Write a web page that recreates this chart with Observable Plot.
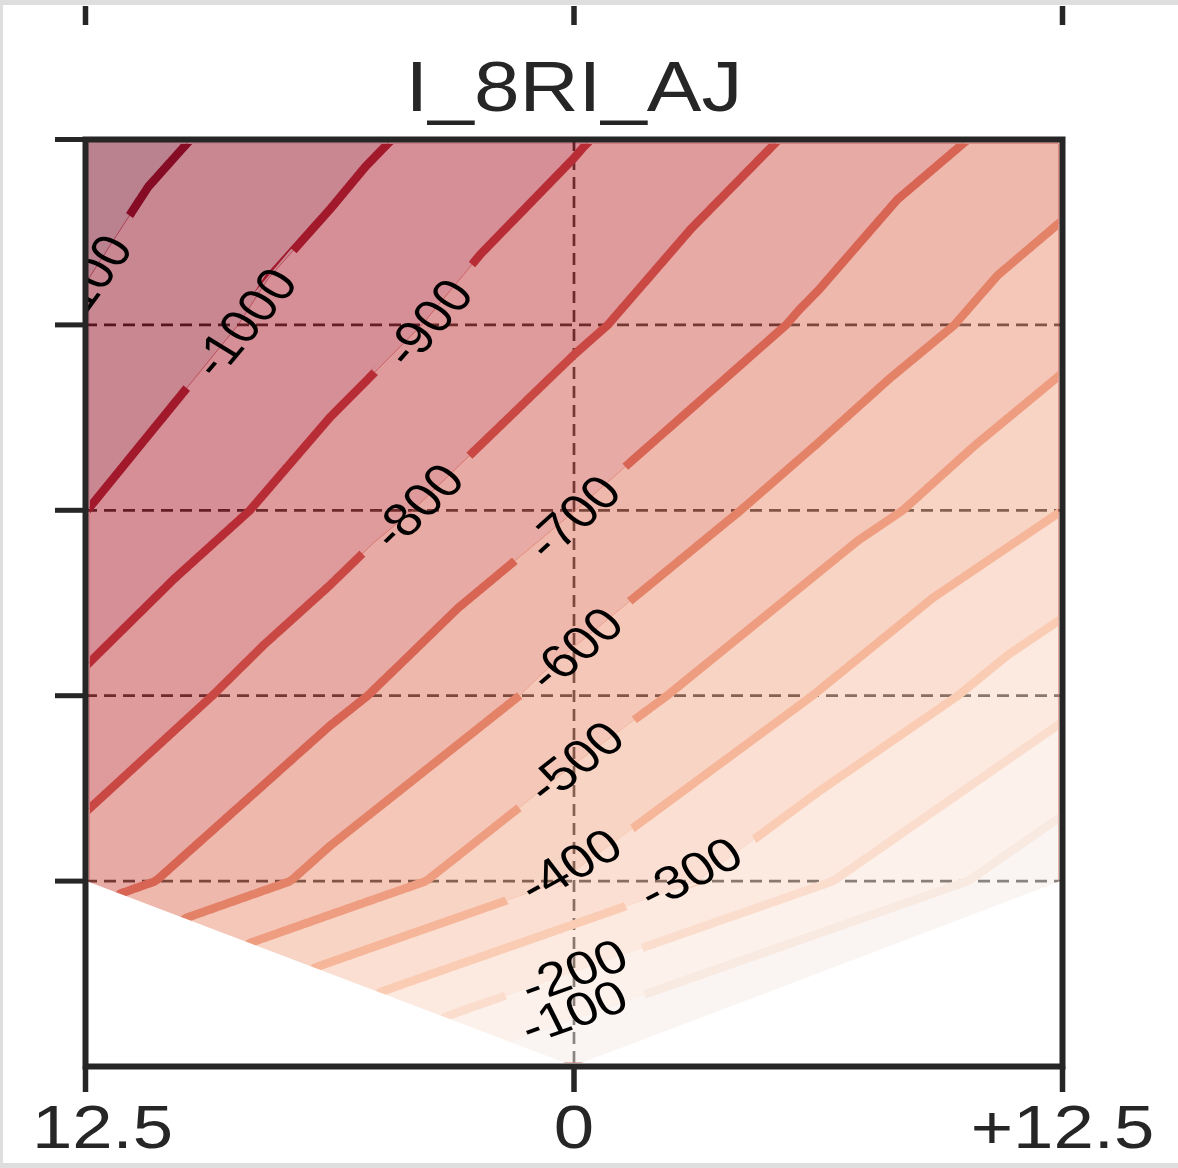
<!DOCTYPE html>
<html><head><meta charset="utf-8">
<script src="https://cdn.jsdelivr.net/npm/d3@7"></script>
<script src="https://cdn.jsdelivr.net/npm/@observablehq/plot@0.6"></script>
<style>
html,body{margin:0;padding:0;background:#dedede;width:1178px;height:1168px;overflow:hidden;}
#wrap{position:absolute;left:3px;top:5px;width:1175px;height:1158px;background:#fff;overflow:hidden;}
</style></head><body><div id="wrap"></div>
<script>
// ---- data ----
const chartTitle = "I_8RI_AJ";
const xCols = [-12.5, -6.25, 0, 6.25, 12.5];
const yRows = [5, 4, 3, 2, 1];
const row5 = [-1152, -1031, -909, -779, -650];
const row4 = [-1085, -949, -819, -682, -535];
const row3 = [-1001, -851, -701, -553, -400];
const row2 = [-881, -725, -564, -396, -228];
const row1 = [-752, -571, -391, -211, -30];
const apexX = 0, apexY = 0, apexValue = 0;
const lineLevels = [-1100, -1000, -900, -800, -700, -600, -500, -400, -300, -200, -100];
const fillThresholds = [-1200, -1100, -1000, -900, -800, -700, -600, -500, -400, -300, -200, -100];
const xDomain = [-12.5, 12.5];
const yDomain = [0, 5];
const xTicks = [-12.5, 0, 12.5];
const xTickLabels = ["12.5", "0", "+12.5"];
const yTicks = [1, 2, 3, 4, 5];
const yGrid = [1, 2, 3, 4];
const xGrid = [0];
const labelLevels = [-1100, -1000, -900, -800, -700, -600, -500, -400, -300, -200, -100];
const labelX = [-12.55, -8.43, -3.72, -4.0, -0.01, 0.04, 0.04, -0.09, 2.98, 0, 0];
const labelY = [4.19, 4.01, 4.01, 3.02, 2.96, 2.25, 1.64, 1.08, 1.04, 0.51, 0.29];
const labelAngle = [54, 50, 48.5, 44, 42, 40.5, 38, 29, 27, 20, 20];

// ---- build tables ----
const rows = [row5, row4, row3, row2, row1];
const samples = [];
rows.forEach((r, i) => r.forEach((v, j) => samples.push({x: xCols[j], y: yRows[i], v})));
samples.push({x: apexX, y: apexY, v: apexValue});
const hull = [{x: xCols[0], y: yRows[4]}, {x: apexX, y: apexY}, {x: xCols[4], y: yRows[4]}];
const labels = labelLevels.map((lv, i) => ({lv, text: String(lv), x: labelX[i], y: labelY[i], a: labelAngle[i]}));
const tickData = xTicks.map((x, i) => ({x, label: xTickLabels[i]}));

const S = 1.17; // horizontal text stretch
const rdbu = v => d3.interpolateRdBu((v + 1200) / 2400);
const ink = "#262626";
const font = "'Liberation Sans', Arial, Helvetica, sans-serif";

const chart = Plot.plot({
  width: 1175, height: 1158,
  marginLeft: 82, marginRight: 116, marginTop: 134, marginBottom: 97,
  x: {domain: xDomain, axis: null},
  y: {domain: yDomain, axis: null},
  color: {type: "linear", domain: [-1250, 1150], interpolate: d3.interpolateRdBu},
  style: {fontFamily: font, background: "white", overflow: "visible"},
  marks: [
    Plot.ruleY(yGrid, {y: d => d, stroke: "#1a1a1a", strokeWidth: 2.7, strokeDasharray: "12,7"}),
    Plot.ruleX(xGrid, {x: d => d, stroke: "#1a1a1a", strokeWidth: 2.7, strokeDasharray: "12,7"}),
    Plot.contour(samples, {x: "x", y: "y", value: "v", fill: "value", stroke: "none",
      thresholds: fillThresholds, interpolate: "barycentric", clip: true, className: "cfill"}),
    Plot.contour(samples, {x: "x", y: "y", value: "v", fill: "none", stroke: "value", strokeWidth: 1, strokeOpacity: 0.6,
      thresholds: lineLevels, interpolate: "barycentric", clip: true, className: "cthin"}),
    ...lineLevels.map(lv => Plot.contour(samples, {x: "x", y: "y", value: "v", fill: "none",
      stroke: rdbu(lv), strokeWidth: 8.5, strokeLinejoin: "miter", strokeLinecap: "butt",
      thresholds: [lv], interpolate: "barycentric", className: "cline"})),
    Plot.areaY(hull, {x: "x", y1: yDomain[0], y2: "y", fill: "white", clip: true}),
    Plot.text(labels, {x: "x", y: "y", text: "text",
      rotate: d => -Math.atan(S * Math.tan(d.a * Math.PI / 180)) * 180 / Math.PI,
      fontSize: 47, fill: "black", clip: true, textAnchor: "middle", lineAnchor: "middle", className: "clbl"}),
    Plot.axisY({ticks: yTicks, tickSize: 30, tickFormat: () => "", label: null, stroke: ink, strokeWidth: 5}),
    Plot.axisX({ticks: xTicks, tickSize: 26, tickFormat: () => "", label: null, stroke: ink, strokeWidth: 5.5}),
    Plot.axisX({anchor: "top", ticks: xTicks, tickSize: 19, dy: -115, tickFormat: () => "", label: null, stroke: ink, strokeWidth: 5.5}),
    Plot.frame({stroke: ink, strokeWidth: 6}),
    Plot.text([chartTitle], {text: d => d, frameAnchor: "top", dy: -51, fontSize: 70, fill: ink, lineAnchor: "middle", className: "ttl"}),
    Plot.text(tickData.filter(d => d.x < 0), {x: "x", text: "label", frameAnchor: "bottom", dy: 62, dx: 17, fontSize: 62, fill: ink, lineAnchor: "middle", className: "tlbl"}),
    Plot.text(tickData.filter(d => d.x >= 0), {x: "x", text: "label", frameAnchor: "bottom", dy: 62, fontSize: 62, fill: ink, lineAnchor: "middle", className: "tlbl"})
  ]
});

// group opacity for the filled contours (so stacked bands don't compound)
chart.querySelectorAll('g.cfill').forEach(g => g.setAttribute("opacity", "0.5"));

// mask: keeps contour lines inside the frame (inset) and cuts gaps where labels sit
const NS = "http://www.w3.org/2000/svg";
const sx = chart.scale("x"), sy = chart.scale("y");
const fx0 = sx.apply(xDomain[0]), fx1 = sx.apply(xDomain[1]);
const fy0 = sy.apply(yDomain[1]), fy1 = sy.apply(yDomain[0]);
const inset = 4.4;
const defs = document.createElementNS(NS, "defs");
const mask = document.createElementNS(NS, "mask");
mask.setAttribute("id", "gapmask");
mask.setAttribute("maskUnits", "userSpaceOnUse");
mask.setAttribute("x", "-200"); mask.setAttribute("y", "-200");
mask.setAttribute("width", "1600"); mask.setAttribute("height", "1600");
const bg = document.createElementNS(NS, "rect");
bg.setAttribute("x", fx0 + inset); bg.setAttribute("y", fy0 + inset);
bg.setAttribute("width", fx1 - fx0 - 2 * inset); bg.setAttribute("height", fy1 - fy0 - 2 * inset);
bg.setAttribute("fill", "white");
mask.appendChild(bg);
labels.forEach(d => {
  const px = sx.apply(d.x), py = sy.apply(d.y);
  const L = 29 * (d.text.length + 1);
  const r = document.createElementNS(NS, "rect");
  r.setAttribute("x", -L / 2); r.setAttribute("y", -12);
  r.setAttribute("width", L); r.setAttribute("height", 24);
  r.setAttribute("fill", "black");
  r.setAttribute("transform", `translate(${px},${py}) rotate(${-d.a})`);
  mask.appendChild(r);
});
defs.appendChild(mask);
chart.insertBefore(defs, chart.firstChild);
chart.querySelectorAll('g.cline').forEach(g => g.setAttribute("mask", "url(#gapmask)"));

// horizontally stretched text like the reference
chart.querySelectorAll('g.clbl text, g.ttl text, g.tlbl text').forEach(t => {
  const tr = t.getAttribute("transform") || "";
  if (/^translate\([^)]*\)/.test(tr)) t.setAttribute("transform", tr.replace(/^(translate\([^)]*\))/, `$1 scale(${S},1)`));
  else t.setAttribute("transform", `scale(${S},1) ` + tr);
});

document.getElementById("wrap").appendChild(chart);
</script></body></html>
